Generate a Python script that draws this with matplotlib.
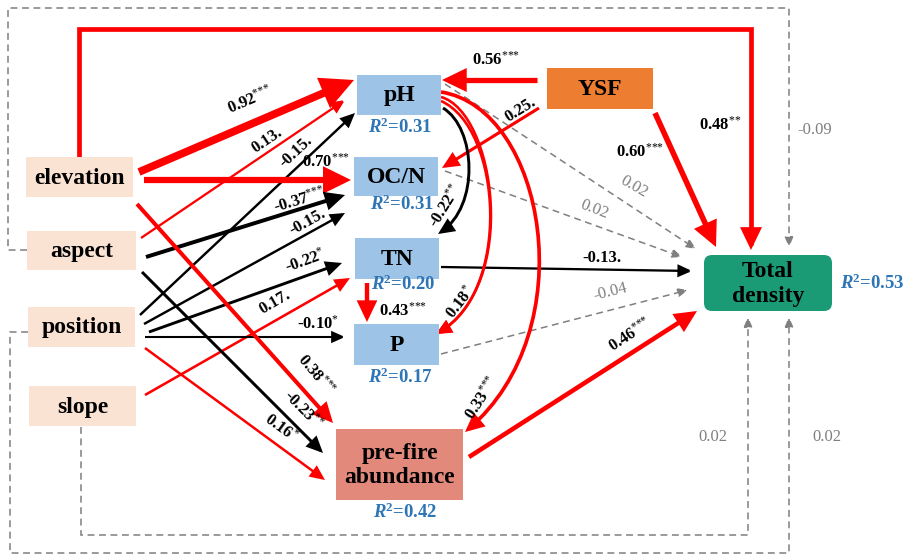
"""Path diagram of the structural equation model for total density."""
import matplotlib
matplotlib.use("Agg")
import matplotlib.pyplot as plt
from matplotlib.patches import FancyArrowPatch, FancyBboxPatch, Rectangle
from matplotlib.path import Path

plt.rcParams["font.family"] = ["Liberation Serif", "DejaVu Serif"]
plt.rcParams["mathtext.fontset"] = "custom"
plt.rcParams["mathtext.rm"] = "Liberation Serif"
plt.rcParams["mathtext.it"] = "Liberation Serif:italic"
plt.rcParams["mathtext.bf"] = "Liberation Serif:bold"
plt.rcParams["mathtext.bfit"] = "Liberation Serif:italic:bold"

# ---- model variables and fitted results ----
nodes = ["elevation", "aspect", "position", "slope", "YSF",
         "pH", "OC/N", "TN", "P", "pre-fire\nabundance", "Total\ndensity"]
r2_nodes = ["pH", "OC/N", "TN", "P", "pre-fire\nabundance", "Total\ndensity"]
r2_values = [0.31, 0.31, 0.20, 0.17, 0.42, 0.53]

path_from = ["elevation", "aspect", "position",
             "elevation", "aspect", "position",
             "position", "slope", "position",
             "elevation", "aspect", "position",
             "YSF", "YSF", "YSF", "elevation",
             "pH", "OC/N", "TN", "P", "pre-fire\nabundance",
             "TN", "pH", "pH", "pH",
             "aspect", "slope", "position"]
path_to = ["pH", "pH", "pH",
           "OC/N", "OC/N", "OC/N",
           "TN", "TN", "P",
           "pre-fire\nabundance", "pre-fire\nabundance", "pre-fire\nabundance",
           "pH", "OC/N", "Total\ndensity", "Total\ndensity",
           "Total\ndensity", "Total\ndensity", "Total\ndensity", "Total\ndensity", "Total\ndensity",
           "P", "TN", "P", "pre-fire\nabundance",
           "Total\ndensity", "Total\ndensity", "Total\ndensity"]
path_coef = [0.92, 0.13, -0.15,
             0.70, -0.37, -0.15,
             -0.22, 0.17, -0.10,
             0.38, -0.23, 0.16,
             0.56, 0.25, 0.60, 0.48,
             0.02, 0.02, -0.13, -0.04, 0.46,
             0.43, -0.22, 0.18, 0.33,
             -0.09, 0.02, 0.02]
path_sig = ["***", ".", ".",
            "***", "***", ".",
            "*", ".", "*",
            "***", "**", "*",
            "***", ".", "***", "**",
            "", "", ".", "", "***",
            "***", "**", "*", "***",
            "", "", ""]

# ---- layout (pixel canvas, y downwards) ----
boxes = {
    "elevation": (26, 157, 133, 197, "#FBE3D4"),
    "aspect": (27, 231, 136, 270, "#FBE3D4"),
    "position": (28, 307, 135, 347, "#FBE3D4"),
    "slope": (29, 386, 136, 426, "#FBE3D4"),
    "YSF": (547, 68, 653, 109, "#ED7D31"),
    "pH": (357, 75, 441, 115, "#9DC3E6"),
    "OC/N": (354, 157, 438, 196, "#9DC3E6"),
    "TN": (355, 238, 439, 279, "#9DC3E6"),
    "P": (354, 324, 439, 365, "#9DC3E6"),
    "pre-fire\nabundance": (336, 429, 463, 500, "#E2897B"),
    "Total\ndensity": (704, 255, 832, 311, "#1B9A76"),
}
r2_pos = {
    "pH": (400, 127, "center"), "OC/N": (402, 204, "center"),
    "TN": (403, 284, "center"), "P": (400, 377, "center"),
    "pre-fire\nabundance": (405, 512, "center"), "Total\ndensity": (840, 283, "left"),
}

# stroke geometry and label placement for each path, same order as above
geometry = [
    dict(pts=[(139, 172), (354, 80)], lab=(250, 100, 23)),
    dict(pts=[(141, 238), (345, 100)], lab=(267, 140, 34)),
    dict(pts=[(140, 315), (355, 113)], lab=(296, 152, 43)),
    dict(pts=[(144, 180), (351, 180)], lab=(326, 162, 0)),
    dict(pts=[(146, 257), (345, 195)], lab=(300, 200, 17)),
    dict(pts=[(144, 324), (345, 213)], lab=(308, 222, 29)),
    dict(pts=[(149, 332), (342, 263)], lab=(305, 261, 20)),
    dict(pts=[(145, 395), (350, 278)], lab=(275, 302, 30)),
    dict(pts=[(145, 337), (345, 337)], lab=(318, 324, 0)),
    dict(pts=[(137, 204), (333, 423)], lab=(316, 375, -50)),
    dict(pts=[(142, 272), (323, 453)], lab=(303, 410, -45)),
    dict(pts=[(145, 348), (325, 480)], lab=(281, 428, -36)),
    dict(pts=[(537, 80), (442, 80)], lab=(496, 60, 0)),
    dict(pts=[(539, 108), (442, 168)], lab=(520, 110, 32)),
    dict(pts=[(655, 113), (716, 247)], lab=(640, 152, 0)),
    dict(pts=[(79, 157), (79, 29), (751, 29), (751, 250)], lab=(720, 125, 0)),
    dict(pts=[(445, 84), (696, 249)], lab=(634, 187, -30)),
    dict(pts=[(445, 171), (682, 257)], lab=(594, 209, -21)),
    dict(pts=[(441, 267), (692, 271)], lab=(602, 258, 0)),
    dict(pts=[(441, 354), (688, 290)], lab=(610, 292, 14)),
    dict(pts=[(469, 457), (697, 311)], lab=(630, 335, 33)),
    dict(pts=[(367, 283), (367, 322)], lab=(403, 311, 0)),
    dict(pts=[(443, 108), (476, 128), (480, 206), (438, 234)], curve=True, lab=(446, 206, 58)),
    dict(pts=[(441, 101), (502, 128), (512, 292), (436, 334)], curve=True, lab=(461, 302, 52),
         extra=[(441, 97), (495, 112), (520, 285), (436, 334)]),
    dict(pts=[(441, 92), (545, 108), (585, 330), (465, 432)], curve=True, lab=(482, 398, 57)),
    dict(pts=[(27, 250), (8, 250), (8, 8), (789, 8), (789, 247)], lab=(815, 130, 0)),
    dict(pts=[(81, 427), (81, 535), (748, 535), (748, 317)], lab=(713, 437, 0)),
    dict(pts=[(28, 332), (10, 332), (10, 553), (789, 553), (789, 317)], lab=(827, 437, 0)),
]


def draw_stroke(ax, pts, curve, color, lw, dashed, head_len, head_w):
    if curve:
        codes = [Path.MOVETO, Path.CURVE4, Path.CURVE4, Path.CURVE4]
    else:
        codes = [Path.MOVETO] + [Path.LINETO] * (len(pts) - 1)
    arrow = FancyArrowPatch(
        path=Path(pts, codes),
        arrowstyle=f"-|>,head_length={head_len},head_width={head_w}",
        mutation_scale=1, color=color, lw=lw,
        linestyle=(0, (4.5, 3)) if dashed else "-",
        joinstyle="miter", capstyle="butt", zorder=2,
    )
    ax.add_patch(arrow)


def stars(sig):
    # each asterisk in its own group so mathtext does not space it as an operator
    return "$^{" + "".join("{*}" for _ in sig) + "}$"


fig = plt.figure(figsize=(9.09, 5.56), dpi=100)
ax = fig.add_axes([0, 0, 1, 1])
ax.set_xlim(0, 909)
ax.set_ylim(556, 0)
ax.axis("off")

for name in nodes:
    x0, y0, x1, y1, fc = boxes[name]
    if name == "Total\ndensity":
        patch = FancyBboxPatch((x0 + 8, y0 + 8), x1 - x0 - 16, y1 - y0 - 16,
                               boxstyle="round,pad=8", fc=fc, ec="none", zorder=3)
    else:
        patch = Rectangle((x0, y0), x1 - x0, y1 - y0, fc=fc, ec="none", zorder=3)
    ax.add_patch(patch)
    ax.text((x0 + x1) / 2, (y0 + y1) / 2 + 1, name, ha="center", va="center",
            fontsize=17, fontweight="bold", linespacing=1.2, zorder=5)

for name, r2 in zip(r2_nodes, r2_values):
    x, y, ha = r2_pos[name]
    ax.text(x, y, r"$\mathbfit{R}^{\mathbf{2}}$" + f"={r2:.2f}", ha=ha, va="center",
            fontsize=13.5, fontweight="bold", color="#2E75B6", zorder=5)

for coef, sig, geo in zip(path_coef, path_sig, geometry):
    significant = sig != ""
    mag = abs(coef)
    if significant:
        color = "#FF0000" if coef > 0 else "#000000"
        lw = 1.0 + 5.0 * mag
        head_len, head_w = 6.5 + 9 * mag, 2.8 + 5 * mag
    else:
        color = "#7F7F7F"
        lw = 1.1
        head_len, head_w = 6.0, 2.6
    strokes = [geo["pts"]] + ([geo["extra"]] if "extra" in geo else [])
    for pts in strokes:
        draw_stroke(ax, pts, geo.get("curve", False), color, lw, not significant,
                    head_len, head_w)

    lx, ly, rot = geo["lab"]
    if not significant:
        text, weight, tcolor = f"{coef:.2f}", "normal", "#7F7F7F"
    elif sig == ".":
        text, weight, tcolor = f"{coef:.2f}.", "bold", "#000000"
    else:
        text, weight, tcolor = f"{coef:.2f}" + stars(sig), "bold", "#000000"
    ax.text(lx, ly, text, ha="center", va="center", rotation=rot,
            rotation_mode="anchor", fontsize=12, fontweight=weight,
            color=tcolor, zorder=6)

fig.savefig("out.png", dpi=100)
